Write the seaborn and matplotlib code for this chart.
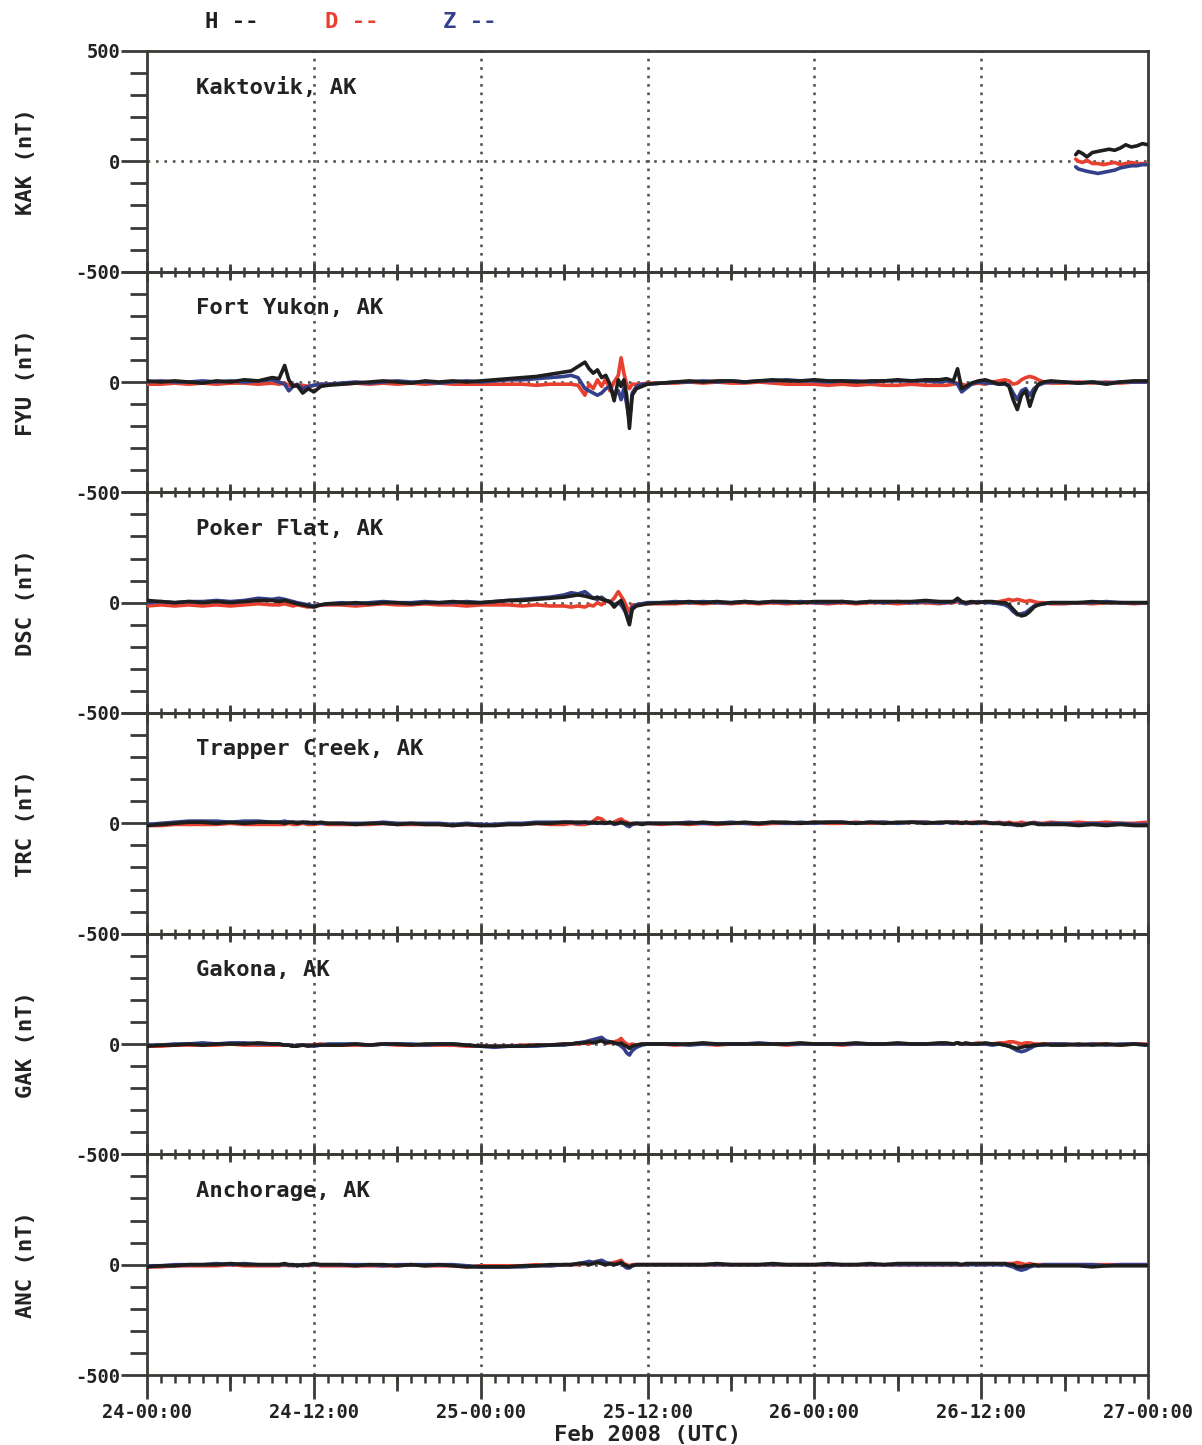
import numpy as np
import pandas as pd
import matplotlib
matplotlib.use("Agg")
import matplotlib.pyplot as plt
from matplotlib.ticker import MultipleLocator, FixedLocator
import seaborn as sns

# ---------------- data ----------------
stations = ["KAK", "FYU", "DSC", "TRC", "GAK", "ANC"]
station_names = ["Kaktovik, AK", "Fort Yukon, AK", "Poker Flat, AK",
                 "Trapper Creek, AK", "Gakona, AK", "Anchorage, AK"]
components = ["H", "D", "Z"]
x_tick_labels = ["24-00:00", "24-12:00", "25-00:00", "25-12:00",
                 "26-00:00", "26-12:00", "27-00:00"]
x_tick_hours = [0, 12, 24, 36, 48, 60, 72]

# hours since 24-Feb 00:00 UTC
t_kak = [66.8, 67.0, 67.3, 67.6, 68.0, 68.4, 68.8, 69.2, 69.6, 70.0, 70.4,
         70.8, 71.2, 71.6, 72.0]
t_main = ([0, 1, 2, 3, 4, 5, 6, 7, 8, 9] +
          [9.5, 9.9, 10.2, 10.5, 10.8, 11.2, 11.6, 12, 12.5, 13] +
          [14, 15, 16, 17, 18, 19, 20, 21, 22, 23, 24] +
          [25, 26, 27, 28, 29, 30] +
          [30.5, 31, 31.5, 31.8, 32.1, 32.4, 32.7, 33, 33.3, 33.6, 33.9, 34.1,
           34.3, 34.5, 34.7, 34.9, 35.2, 35.6, 36] +
          [37, 38, 39, 40, 41, 42, 43, 44, 45, 46, 47, 48, 49, 50, 51, 52, 53,
           54, 55, 56, 57] +
          [57.5, 58, 58.3, 58.6, 58.9, 59.3, 59.8, 60.3, 60.8, 61.3, 61.7, 62,
           62.3, 62.6, 62.9, 63.2, 63.5, 63.8, 64.1, 64.5, 65] +
          [66, 67, 68, 69, 70, 71, 72])

kak_h = [30, 45, 35, 20, 40, 45, 50, 55, 50, 60, 75, 65, 70, 80, 75]
kak_d = [10, 0, -5, 5, -10, -10, -15, -10, -5, -15, -10, -5, -10, -10, -10]
kak_z = [-25, -35, -40, -45, -50, -55, -50, -45, -40, -30, -25, -20, -20, -15, -15]

fyu_h = ([5, 0, 5, 0, -5, 5, 0, 10, 5, 20] +
         [15, 75, 10, -20, -15, -50, -30, -45, -20, -15] +
         [-10, -5, 0, 5, 0, -5, 5, 0, 5, 0, 5] +
         [10, 15, 20, 25, 35, 45] +
         [50, 70, 90, 60, 40, 55, 20, 30, -10, -85, 10, -20, 10, -60, -210, -60, -30, -20, -10] +
         [-5, 0, 5, 0, 5, 5, 0, 5, 10, 5, 5, 10, 5, 5, 0, 5, 5, 10, 5, 10, 10] +
         [15, 5, 60, -30, -20, -5, 5, 10, 0, -10, -5, -20, -80, -125, -60, -40, -110, -50, -10, 0, 5] +
         [0, -5, 0, -10, 0, 5, 5])
fyu_d = ([-10, -10, -5, -10, -5, -10, -5, -5, -10, -5] +
         [-10, -5, -15, -10, -20, -15, -20, -15, -10, -10] +
         [-10, -5, -10, -5, -10, -5, -10, -5, -10, -10, -10] +
         [-10, -10, -10, -15, -10, -10] +
         [-10, -15, -60, -10, -30, 10, -20, 15, -40, 0, 30, 110, 40, -10, -30, -10, -10, -10, -5] +
         [-5, -5, 0, -5, 0, -5, -5, 0, -5, -10, -10, -10, -15, -10, -15, -10, -15, -15, -10, -15, -15] +
         [-15, -10, -5, -10, -15, -10, -5, -10, 0, 5, 10, 5, -10, -5, 10, 20, 25, 20, 10, 0, -5] +
         [-5, 0, -5, 0, -5, 0, 0])
fyu_z = ([0, 5, 0, 0, 5, 0, 5, 0, 5, 10] +
         [0, -10, -40, -20, -10, -30, -20, -15, -10, -10] +
         [-5, 0, -5, 0, 5, 0, 0, -5, 0, 5, 0] +
         [5, 10, 10, 15, 20, 25] +
         [30, 20, -30, -40, -50, -60, -50, -30, -20, -60, -40, -80, -30, -100, -175, -50, -20, -10, -10] +
         [-5, 0, 0, 5, 0, 5, 0, 5, 5, 10, 5, 5, 0, 5, 5, 0, 5, 5, 5, 5, 0] +
         [5, 0, -10, -45, -30, -10, 0, -5, -5, -10, -10, -15, -50, -80, -40, -30, -60, -30, -15, -5, 0] +
         [0, -5, 0, -5, 0, 0, 0])

dsc_h = ([10, 5, 0, 5, 0, 5, 0, 5, 10, 10] +
         [5, 10, 5, 0, -5, -10, -15, -20, -10, -5] +
         [-5, 0, -5, 0, 0, -5, 0, 0, 5, 0, 0] +
         [5, 10, 10, 15, 20, 25] +
         [30, 35, 30, 25, 20, 25, 15, 10, 5, -20, 0, 10, -20, -60, -100, -30, -15, -10, -5] +
         [0, 0, 5, 0, 5, 0, 5, 0, 5, 5, 0, 5, 5, 5, 0, 5, 5, 5, 5, 10, 5] +
         [5, 5, 20, 5, 0, 5, 0, 5, 5, 0, 0, -10, -30, -50, -60, -55, -40, -20, -10, -5, 0] +
         [0, 0, 5, 0, 0, 0, 0])
dsc_d = ([-15, -10, -15, -10, -15, -10, -15, -10, -5, -10] +
         [-10, -5, -10, -15, -10, -15, -20, -15, -10, -10] +
         [-10, -15, -10, -5, -10, -10, -5, -10, -10, -15, -10] +
         [-10, -10, -15, -10, -15, -15] +
         [-20, -15, -20, -10, -15, 0, -10, 10, 0, 20, 50, 30, 10, -20, -40, -10, -10, -5, -5] +
         [-5, -5, 0, -5, 0, -5, 0, -5, 0, -5, 0, 0, -5, 0, -5, 0, 0, -5, 0, 0, -5] +
         [0, 0, 5, 0, -5, 0, 0, 5, 0, 5, 10, 15, 10, 15, 10, 5, 10, 5, 0, 0, -5] +
         [-5, 0, -5, 0, 0, -5, 0])
dsc_z = ([0, 5, 0, 5, 5, 10, 5, 10, 20, 15] +
         [20, 15, 10, 5, 0, -5, -10, -15, -10, -5] +
         [0, -5, 0, 5, 0, 0, 5, 0, 0, 5, 0] +
         [5, 10, 15, 20, 25, 35] +
         [45, 40, 50, 35, 20, 15, 25, 10, 5, -10, 0, -10, -30, -50, -90, -20, -10, -5, 0] +
         [0, 5, 0, 5, 0, 0, 5, 0, 5, 0, 5, 0, 0, 5, 0, 5, 0, 5, 0, 5, 0] +
         [0, 5, 10, 0, -5, 0, 5, 0, 0, -5, -10, -20, -40, -55, -50, -45, -30, -15, -10, -5, 0] +
         [0, 0, 0, 5, 0, 0, 0])

trc_h = ([-10, -5, 0, 5, 5, 0, 5, 0, 5, 5] +
         [5, 0, 5, 5, 0, 5, 5, 0, 5, 0] +
         [0, -5, 0, 0, -5, 0, -5, -5, -10, -5, -10] +
         [-10, -5, -5, 0, 0, 5] +
         [5, 5, 5, 0, 5, 0, 5, 0, 5, 0, 0, 5, 0, 0, -5, 0, 0, -5, 0] +
         [0, 0, 0, 5, 0, 0, 5, 0, 5, 5, 0, 5, 5, 5, 0, 5, 0, 5, 5, 0, 5] +
         [5, 5, 5, 0, 5, 0, 5, 5, 0, 0, -5, 0, -5, -5, -10, -5, 0, 0, -5, -5, -5] +
         [-5, -10, -5, -10, -5, -10, -10])
trc_d = ([-10, -10, -5, -5, -5, -5, 0, -5, -5, -5] +
         [-5, -5, 0, -5, -5, 0, -5, -5, 0, -5] +
         [-5, -5, -5, 0, -5, -5, -5, -5, -10, -5, -10] +
         [-5, -5, -5, 0, -5, -5] +
         [0, -5, -5, 0, 10, 25, 20, 5, 0, 5, 15, 20, 10, 5, 0, -5, 0, 0, 0] +
         [-5, 0, -5, 0, -5, 0, 0, -5, 0, 0, 0, 5, 0, 0, 5, 0, 5, 0, 5, 5, 0] +
         [5, 5, 0, 5, 0, 5, 5, 0, 0, 5, 0, 5, 0, 0, 5, 0, 0, 5, 0, 0, 5] +
         [0, 5, 0, 5, 0, 0, 5])
trc_z = ([-5, 0, 5, 10, 10, 10, 5, 10, 10, 5] +
         [5, 10, 5, 5, 5, 5, 0, 5, 0, 0] +
         [0, 0, 0, 5, 0, 0, 0, 0, -5, 0, -5] +
         [-5, 0, 0, 5, 5, 5] +
         [5, 0, 5, 5, 0, 5, 0, 0, 5, -5, 0, 5, 0, -10, -15, -5, 0, 0, 0] +
         [0, 0, 5, 0, 0, 5, 0, 0, 5, 0, 5, 0, 5, 5, 0, 5, 5, 0, 5, 5, 0] +
         [5, 0, 5, 0, 5, 0, 0, 5, 0, 0, 0, -5, -5, -10, -5, -5, 0, 0, 0, -5, 0] +
         [0, -5, 0, -5, 0, -5, -5])

gak_h = ([-10, -5, -5, 0, -5, 0, 0, 0, 5, 0] +
         [0, -5, -5, -10, -10, -5, -10, -5, -5, -5] +
         [-5, 0, -5, 0, 0, -5, 0, 0, 0, -5, -10] +
         [-10, -10, -10, -5, -5, 0] +
         [0, 5, 5, 10, 5, 10, 15, 5, 10, 5, 0, 5, -5, -10, -20, -10, -5, 0, 0] +
         [0, 0, 0, 5, 0, 0, 0, 0, 0, 0, 5, 0, 0, 0, 5, 0, 0, 5, 0, 0, 5] +
         [5, 0, 5, 0, 5, 0, 0, 5, 0, 0, -5, -10, -15, -20, -15, -10, -10, -5, -5, 0, -5] +
         [-5, 0, -5, 0, -5, 0, -5])
gak_d = ([-10, -10, -5, -5, -5, -5, 0, -5, -5, -5] +
         [-5, -5, -5, -10, -5, -5, -5, -5, 0, -5] +
         [-5, -5, -5, 0, -5, -5, -5, -5, -5, -10, -10] +
         [-10, -10, -5, -5, -5, 0] +
         [0, 0, 5, 0, 10, 20, 15, 5, 5, 10, 15, 25, 10, 0, -5, 0, -5, 0, 0] +
         [0, -5, 0, 0, -5, 0, 0, 0, 0, -5, 0, 0, 0, -5, 0, 0, 0, 0, 0, 0, 0] +
         [0, 0, 5, 0, 0, 0, 5, 0, 0, 5, 5, 10, 10, 5, 0, 5, 5, 0, 0, 0, 0] +
         [0, -5, 0, 0, -5, 0, 0])
gak_z = ([-5, -5, 0, 0, 5, 0, 5, 5, 0, 0] +
         [0, -5, -5, -10, -5, -5, -5, -10, -5, 0] +
         [0, 0, -5, 0, 0, 0, -5, 0, 0, -5, -10] +
         [-15, -10, -10, -10, -5, -5] +
         [0, 5, 10, 15, 20, 25, 30, 15, 10, 5, 0, -10, -20, -40, -50, -30, -15, -5, 0] +
         [0, 0, -5, 0, 0, 0, 0, 5, 0, 0, 0, 0, 0, 0, 0, 0, 0, 0, 0, 0, 0] +
         [0, 0, 5, 0, 0, 0, 0, 0, -5, 0, -5, -10, -20, -30, -35, -30, -20, -10, -5, -5, 0] +
         [0, -5, 0, -5, 0, 0, -5])

anc_h = ([-10, -5, -5, 0, 0, 0, 5, 0, 0, 0] +
         [0, 5, 0, 0, -5, 0, 0, 5, 0, 0] +
         [0, -5, 0, 0, -5, 0, -5, 0, -5, -10, -10] +
         [-10, -10, -5, -5, 0, 0] +
         [0, 5, 5, 0, 5, 10, 5, 0, 5, 0, 5, 10, 0, -5, -10, -5, 0, 0, 0] +
         [0, 0, 0, 0, 5, 0, 0, 0, 5, 0, 0, 0, 5, 0, 0, 5, 0, 5, 5, 5, 5] +
         [5, 5, 5, 0, 5, 5, 5, 5, 5, 5, 5, 0, 0, -10, -10, -5, -5, 0, -5, -5, -5] +
         [-5, -5, -10, -5, -5, -5, -5])
anc_d = ([-10, -10, -5, -5, -5, -5, 0, -5, -5, -5] +
         [-5, 0, -5, 0, -5, 0, -5, 0, -5, -5] +
         [-5, -5, -5, -5, -5, 0, -5, -5, -5, -10, -5] +
         [-5, -5, -5, 0, -5, 0] +
         [0, 0, 5, 5, 10, 15, 5, 0, 5, 10, 15, 20, 5, 0, -5, 0, 0, 0, 0] +
         [0, 0, 0, 0, 0, 0, 0, 0, 0, 0, 0, 0, 0, 0, 0, 0, 0, 0, 0, 0, 0] +
         [0, 0, 0, 0, 0, 5, 0, 0, 5, 0, 5, 5, 5, 10, 5, 0, 5, 0, 0, 0, 0] +
         [0, 0, 0, 0, 0, 0, 0])
anc_z = ([-5, -5, 0, 0, 0, 5, 0, 5, 0, 0] +
         [0, 0, 0, -5, 0, -5, 0, 0, 0, 0] +
         [0, 0, 0, -5, 0, 0, 0, 0, 0, -5, -10] +
         [-10, -10, -10, -5, -5, 0] +
         [0, 5, 10, 15, 10, 15, 20, 10, 5, 0, 5, 10, -5, -15, -15, -5, 0, 0, 0] +
         [0, 0, 0, 0, 0, 0, 0, 0, 0, 0, 0, 0, 0, 0, 0, 0, 0, 0, 0, 0, 0] +
         [0, 0, 0, 0, 0, 0, 0, 0, 0, 0, 0, -5, -10, -20, -25, -20, -10, -5, -5, 0, 0] +
         [0, 0, 0, -5, 0, 0, 0])

series = {
    "KAK": (t_kak, kak_h, kak_d, kak_z),
    "FYU": (t_main, fyu_h, fyu_d, fyu_z),
    "DSC": (t_main, dsc_h, dsc_d, dsc_z),
    "TRC": (t_main, trc_h, trc_d, trc_z),
    "GAK": (t_main, gak_h, gak_d, gak_z),
    "ANC": (t_main, anc_h, anc_d, anc_z),
}

# ---------------- style ----------------
sns.set_style("ticks")
plt.rcParams["font.family"] = ["DejaVu Sans Mono", "DejaVu Sans"]
plt.rcParams["font.weight"] = "bold"

comp_colors = {"H": "#1e1e1e", "D": "#e8402f", "Z": "#34408a"}
axis_col = "#3a3a36"
grid_col = "#55554f"

W, H_PX = 1202, 1445
fig = plt.figure(figsize=(W / 100, H_PX / 100), dpi=100)
axes = fig.subplots(6, 1, sharex=True, gridspec_kw=dict(hspace=0))
fig.subplots_adjust(left=147 / W, right=1148 / W,
                    top=1 - 51 / H_PX, bottom=1 - 1375 / H_PX)

for i, (ax, st, name) in enumerate(zip(axes, stations, station_names)):
    ax.patch.set_alpha(0)
    t, h, d, z = series[st]
    df = pd.DataFrame({"t": t, "H": h, "D": d, "Z": z})
    # grid lines
    for xv in [12, 24, 36, 48, 60]:
        ax.axvline(xv, color=grid_col, lw=1.9, ls=(0, (1, 2.2)), zorder=1)
    ax.axhline(0, color=grid_col, lw=1.9, ls=(0, (1, 2.2)), zorder=1)
    for comp in ["D", "Z", "H"]:
        sns.lineplot(data=df, x="t", y=comp, ax=ax, color=comp_colors[comp],
                     lw=2.6, estimator=None, sort=False, zorder=3)
    ax.set_xlim(0, 72)
    ax.set_ylim(-500, 500)
    ax.set_xlabel("")
    ax.set_ylabel(f"{st} (nT)", fontsize=16, fontweight="bold", color="#222")
    ax.yaxis.set_label_coords((36 - 147) / 1001, 0.5)
    ax.text(0.049, 0.835, name, transform=ax.transAxes, fontsize=16,
            fontweight="bold", color="#222", va="center", ha="left")

    for sp in ax.spines.values():
        sp.set_visible(True)
        sp.set_linewidth(2.0)
        sp.set_color(axis_col)

    # y ticks
    ax.yaxis.set_major_locator(FixedLocator([-500, 0, 500]))
    ax.yaxis.set_minor_locator(MultipleLocator(100))
    if i == 0:
        ax.set_yticklabels(["-500", "0", "500"])
    else:
        ax.set_yticklabels(["-500", "0", ""])
    ax.tick_params(axis="y", which="major", length=19, width=2.0,
                   direction="out", pad=0, labelsize=13.5, colors=axis_col,
                   labelcolor="#222")
    ax.tick_params(axis="y", which="minor", length=12, width=2.0,
                   direction="out", colors=axis_col)

    # x ticks
    ax.xaxis.set_major_locator(FixedLocator(x_tick_hours))
    ax.xaxis.set_minor_locator(MultipleLocator(1))
    sec = ax.secondary_xaxis("bottom")
    sec.spines["bottom"].set_visible(False)
    sec.set_xticks([6, 18, 30, 42, 54, 66])
    sec.xaxis.set_minor_locator(FixedLocator([]))
    if i < 5:
        ax.tick_params(axis="x", which="major", direction="inout", length=15,
                       width=2.0, colors=axis_col, labelbottom=False)
        ax.tick_params(axis="x", which="minor", direction="inout", length=7.5,
                       width=1.8, colors=axis_col)
        sec.tick_params(axis="x", which="major", direction="inout", length=11.5,
                        width=2.0, colors=axis_col, labelbottom=False)
    else:
        ax.set_xticklabels(x_tick_labels)
        ax.tick_params(axis="x", which="major", direction="out", length=17,
                       width=2.0, colors=axis_col, labelsize=13.5, pad=3,
                       labelcolor="#222")
        ax.tick_params(axis="x", which="minor", direction="out", length=5.5,
                       width=1.8, colors=axis_col)
        sec.tick_params(axis="x", which="major", direction="out", length=11.5,
                        width=2.0, colors=axis_col, labelbottom=False)

axes[-1].set_xlabel("Feb 2008 (UTC)", fontsize=16, fontweight="bold",
                    color="#222", labelpad=2)

# component legend at top
for label, xpx in [("H", 205), ("D", 325), ("Z", 443)]:
    fig.text(xpx / W, 1 - 22 / H_PX, f"{label} --", fontsize=16,
             fontweight="bold", color=comp_colors[label], va="center",
             ha="left")

fig.savefig("out.png", dpi=100, facecolor="white")
